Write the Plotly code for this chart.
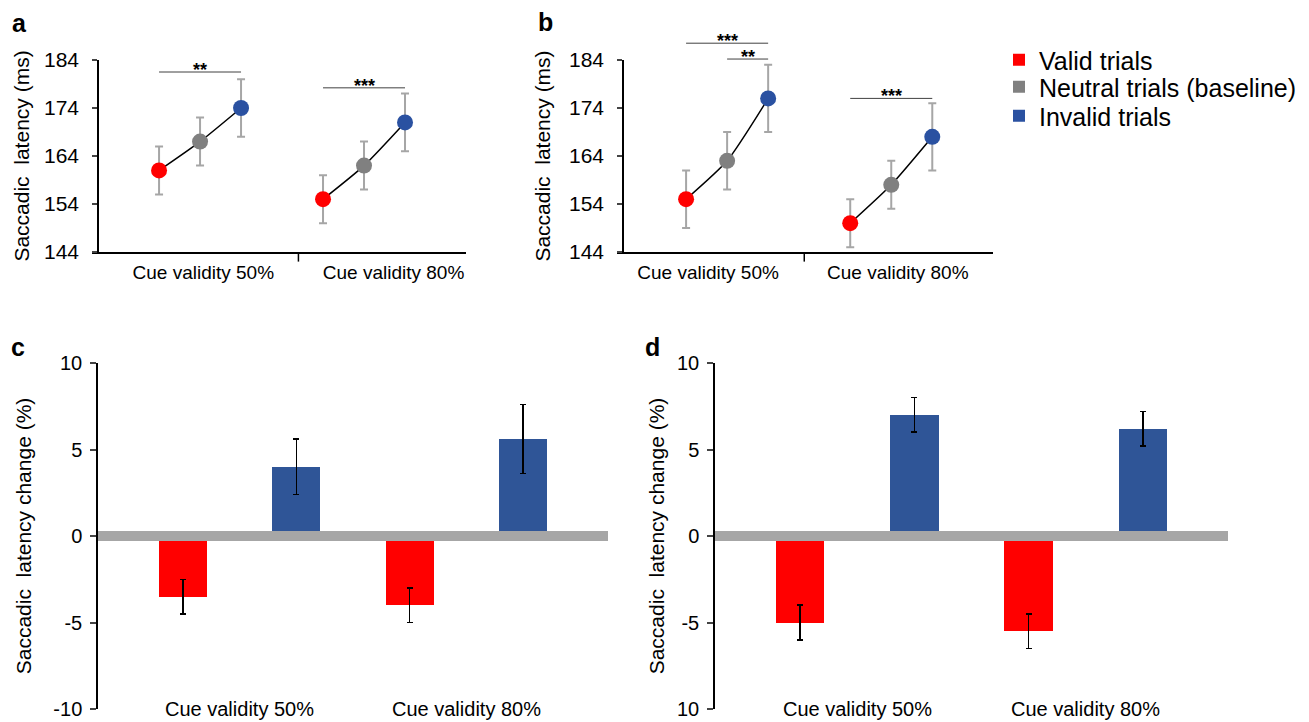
import plotly.graph_objects as go

W, H = 1309, 722
PAGE_OFFSET = 8  # page margin around the figure in the browser

# data
groups = ['Cue validity 50%', 'Cue validity 80%']
conditions = ['Valid trials', 'Neutral trials (baseline)', 'Invalid trials']
colors = ['#ff0000', '#808080', '#2a51a1']
bar_blue = '#2f5597'

# panel a: mean latency (ms) and error, [50%, 80%]
a_valid = [161, 155]
a_neutral = [167, 162]
a_invalid = [174, 171]
a_valid_err = [5, 5]
a_neutral_err = [5, 5]
a_invalid_err = [6, 6]

# panel b
b_valid = [155, 150]
b_neutral = [163, 158]
b_invalid = [176, 168]
b_valid_err = [6, 5]
b_neutral_err = [6, 5]
b_invalid_err = [7, 7]

# panel c: latency change (%)
c_valid = [-3.5, -4.0]
c_invalid = [4.0, 5.6]
c_valid_err = [1.0, 1.0]
c_invalid_err = [1.6, 2.0]

# panel d
d_valid = [-5.0, -5.5]
d_invalid = [7.0, 6.2]
d_valid_err = [1.0, 1.0]
d_invalid_err = [1.0, 1.0]

# y ticks
ms_ticks = [144, 154, 164, 174, 184]
pct_ticks = [-10, -5, 0, 5, 10]
c_ticktext = ['-10', '-5', '0', '5', '10']
d_ticktext = ['10', '-5', '0', '5', '10']

# significance brackets: (label, group, from condition, to condition, level in ms)
a_sig = [('**', 0, 0, 2, 181.5), ('***', 1, 0, 2, 178.2)]
b_sig = [('***', 0, 0, 2, 187.5), ('**', 0, 1, 2, 184.2), ('***', 1, 0, 2, 176.0)]

offsets = [-0.25, 0, 0.25]
bar_offsets = [-0.25, 0.25]
FONT = 'Arial, Liberation Sans, sans-serif'


def px_x(p):
    return (p - PAGE_OFFSET) / W


def px_y(p):
    return (H - (p - PAGE_OFFSET)) / H


fig = go.Figure()


def add_line_panel(xa, ya, vals, errs):
    # black connecting line for each cue validity group
    for g in range(len(groups)):
        fig.add_trace(go.Scatter(
            x=[g + o for o in offsets],
            y=[v[g] for v in vals],
            mode='lines',
            line=dict(color='black', width=1.5, shape='spline', smoothing=0.6),
            showlegend=False, hoverinfo='skip',
            xaxis=xa, yaxis=ya
        ))
    # markers with error bars per condition
    for i, cond in enumerate(conditions):
        fig.add_trace(go.Scatter(
            x=[g + offsets[i] for g in range(len(groups))],
            y=vals[i],
            mode='markers',
            marker=dict(color=colors[i], size=16),
            error_y=dict(type='data', array=errs[i], color='#a6a6a6', thickness=2, width=4),
            name=cond, showlegend=False,
            xaxis=xa, yaxis=ya
        ))


def add_bar_panel(xa, ya, valid, invalid, valid_err, invalid_err):
    for vals, errs, col, off in [(valid, valid_err, colors[0], bar_offsets[0]),
                                 (invalid, invalid_err, bar_blue, bar_offsets[1])]:
        fig.add_trace(go.Bar(
            x=[g + off for g in range(len(groups))],
            y=vals,
            width=0.212,
            marker=dict(color=col, line=dict(width=0)),
            error_y=dict(type='data', array=errs, color='black', thickness=1.5, width=3),
            showlegend=False,
            xaxis=xa, yaxis=ya
        ))


add_line_panel('x', 'y', [a_valid, a_neutral, a_invalid],
               [a_valid_err, a_neutral_err, a_invalid_err])
add_line_panel('x2', 'y2', [b_valid, b_neutral, b_invalid],
               [b_valid_err, b_neutral_err, b_invalid_err])
add_bar_panel('x3', 'y3', c_valid, c_invalid, c_valid_err, c_invalid_err)
add_bar_panel('x4', 'y4', d_valid, d_invalid, d_valid_err, d_invalid_err)

# legend entries (square swatches), one legend box per entry for tight spacing
legend_ids = ['legend', 'legend2', 'legend3']
for cond, col, lid in zip(conditions, colors, legend_ids):
    fig.add_trace(go.Scatter(
        x=[None], y=[None], mode='markers',
        marker=dict(symbol='square', color=col, size=18),
        name=cond, legend=lid, xaxis='x', yaxis='y'
    ))

shapes = []
annotations = []

# significance brackets
for sig, xa in [(a_sig, 'x'), (b_sig, 'x2')]:
    ya = xa.replace('x', 'y') + ' domain'
    for label, g, c0, c1, level in sig:
        yd = (level - ms_ticks[0]) / (ms_ticks[-1] - ms_ticks[0])
        shapes.append(dict(type='line', xref=xa, yref=ya,
                           x0=g + offsets[c0], x1=g + offsets[c1], y0=yd, y1=yd,
                           line=dict(color='#404040', width=1)))
        annotations.append(dict(text='<b>%s</b>' % label, xref=xa, yref=ya,
                                x=g + (offsets[c0] + offsets[c1]) / 2, y=yd,
                                yanchor='bottom', yshift=-10, showarrow=False,
                                font=dict(size=18, color='black', family=FONT)))

# category divider ticks under the a/b axes
for xa, pos in [('x', 0.6), ('x2', 0.47)]:
    shapes.append(dict(type='line', xref=xa, yref=xa.replace('x', 'y') + ' domain',
                       x0=pos, x1=pos, y0=0, y1=-0.05,
                       line=dict(color='black', width=1.5)))

# grey zero bands in c/d
for xa, ya in [('x3', 'y3'), ('x4', 'y4')]:
    shapes.append(dict(type='line', xref=xa + ' domain', yref=ya,
                       x0=0, x1=1, y0=0, y1=0, layer='above',
                       line=dict(color='#a6a6a6', width=10)))

# category labels in c/d
for xa, ya in [('x3', 'y3'), ('x4', 'y4')]:
    for g, name in enumerate(groups):
        annotations.append(dict(text=name, xref=xa, yref=ya + ' domain',
                                x=g, y=0, yanchor='middle', showarrow=False,
                                font=dict(size=20, color='black', family=FONT)))

# panel letters
for letter, px, py in [('a', 19, 23), ('b', 545, 22), ('c', 18, 347), ('d', 652, 347)]:
    annotations.append(dict(text='<b>%s</b>' % letter, xref='paper', yref='paper',
                            x=px_x(px), y=px_y(py), xanchor='center', yanchor='middle',
                            showarrow=False, font=dict(size=25, color='black', family=FONT)))

line_axis = dict(showline=True, linecolor='black', linewidth=1.5, showgrid=False,
                 zeroline=False, automargin=False,
                 tickfont=dict(size=21, color='black', family=FONT))


def y_title(text, standoff):
    return dict(text=text, font=dict(size=21, color='black', family=FONT), standoff=standoff)


def legend_box(center_y):
    return dict(x=px_x(999), y=px_y(center_y), xanchor='left', yanchor='middle',
                font=dict(size=25, color='black', family=FONT),
                itemsizing='constant', bgcolor='rgba(0,0,0,0)')


fig.update_layout(
    width=W, height=H,
    margin=dict(l=0, r=0, t=0, b=0),
    plot_bgcolor='white', paper_bgcolor='white',
    font=dict(family=FONT, color='black'),
    bargap=0,
    legend=legend_box(60),
    legend2=legend_box(87),
    legend3=legend_box(116),
    xaxis=dict(line_axis, domain=[px_x(92), px_x(466)], range=[-0.659, 1.622],
               tickvals=[0.02, 1.18], ticktext=groups, ticks='', ticklabelstandoff=2,
               tickfont=dict(size=19, color='black', family=FONT), anchor='y'),
    yaxis=dict(line_axis, domain=[px_y(252), px_y(60)], range=[ms_ticks[0], ms_ticks[-1]],
               tickvals=ms_ticks, ticks='outside', ticklen=5, ticklabelstandoff=9,
               tickwidth=1.5, title=y_title('Saccadic  latency (ms)', 8),
               anchor='free', position=px_x(98)),
    xaxis2=dict(line_axis, domain=[px_x(617), px_x(993)], range=[-0.671, 1.62],
                tickvals=[-0.116, 1.04], ticktext=groups, ticks='', ticklabelstandoff=2,
                tickfont=dict(size=19, color='black', family=FONT), anchor='y2'),
    yaxis2=dict(line_axis, domain=[px_y(252), px_y(60)], range=[ms_ticks[0], ms_ticks[-1]],
                tickvals=ms_ticks, ticks='outside', ticklen=5, ticklabelstandoff=9,
                tickwidth=1.5, title=y_title('Saccadic  latency (ms)', 12),
                anchor='free', position=px_x(623)),
    xaxis3=dict(domain=[px_x(98), px_x(608)], range=[-0.625, 1.625], visible=False,
                automargin=False, anchor='y3'),
    yaxis3=dict(line_axis, domain=[px_y(709), px_y(363)], range=[pct_ticks[0], pct_ticks[-1]],
                tickvals=pct_ticks, ticktext=c_ticktext, ticks='outside', ticklen=6,
                ticklabelstandoff=4, tickwidth=1.5,
                title=y_title('Saccadic  latency change (%)', 16), anchor='x3',
                tickfont=dict(size=20, color='black', family=FONT)),
    xaxis4=dict(domain=[px_x(715), px_x(1228)], range=[-0.623, 1.623], visible=False,
                automargin=False, anchor='y4'),
    yaxis4=dict(line_axis, domain=[px_y(709), px_y(363)], range=[pct_ticks[0], pct_ticks[-1]],
                tickvals=pct_ticks, ticktext=d_ticktext, ticks='outside', ticklen=6,
                ticklabelstandoff=4, tickwidth=1.5,
                title=y_title('Saccadic  latency change (%)', 7), anchor='x4',
                tickfont=dict(size=20, color='black', family=FONT)),
    shapes=shapes,
    annotations=annotations,
)

fig.write_html("out.html")
